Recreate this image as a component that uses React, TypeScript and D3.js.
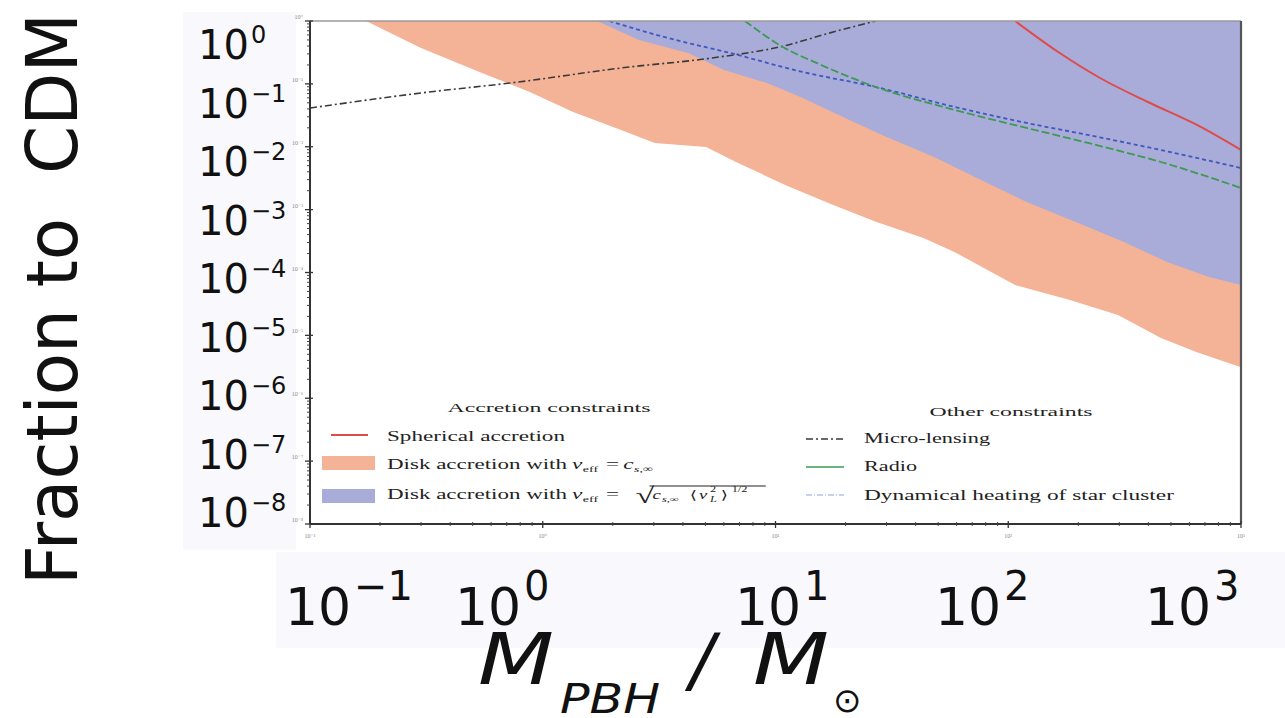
import React from 'react';
import * as d3 from 'd3';

// ---------- data ----------
const massDomain = [0.1, 1000];
const fractionDomain = [1e-8, 1];

// Disk accretion with v_eff = c_s,inf (orange band lower edge)
const diskCsMass = [0.174, 0.3, 0.548, 0.88, 1.35, 2.17, 3.03, 5.03, 6.76, 11.0, 17.7, 27.0, 43.5, 59.0, 107, 184, 296, 453, 647, 1000];
const diskCsFrac = [1, 0.372, 0.149, 0.0743, 0.0357, 0.0185, 0.0115, 0.0099, 0.00572, 0.00247, 0.00119, 6.4e-4, 3.5e-4, 2.1e-4, 6.3e-5, 3.65e-5, 2.1e-5, 9.1e-6, 5.4e-6, 3.1e-6];

// Disk accretion with v_eff = sqrt(c_s <v_L^2>^1/2) (blue band lower edge)
const diskVlMass = [1.71, 2.59, 4.21, 6.01, 9.19, 13.1, 19.9, 28.7, 49.0, 79.5, 120, 195, 314, 481, 728, 1000];
const diskVlFrac = [1, 0.499, 0.31, 0.166, 0.103, 0.0596, 0.0287, 0.0154, 0.00662, 0.00275, 0.00132, 6.36e-4, 3.05e-4, 1.47e-4, 8.5e-5, 6.3e-5];

// Spherical accretion (red)
const sphericalMass = [107, 164, 248, 398, 647, 1000];
const sphericalFrac = [1, 0.321, 0.124, 0.0515, 0.0222, 0.00887];

// Micro-lensing (black dash-dot)
const lensingMass = [0.1, 0.3, 0.783, 2.17, 5.33, 10.4, 17.7, 27.0];
const lensingFrac = [0.0413, 0.0716, 0.107, 0.179, 0.258, 0.386, 0.668, 1];

// Radio (green)
const radioMass = [7.39, 10.4, 15.7, 27.0, 59.0, 120, 220, 453, 1000];
const radioFrac = [1, 0.415, 0.2, 0.0891, 0.0384, 0.0199, 0.0115, 0.00572, 0.00221];

// Dynamical heating of star cluster (blue dashed)
const heatingMass = [1.93, 3.32, 6.38, 13.1, 27.0, 59.0, 120, 220, 453, 1000];
const heatingFrac = [1, 0.557, 0.31, 0.1545, 0.0891, 0.0429, 0.0239, 0.0154, 0.00887, 0.00459];

const xDecadeExponents = [-1, 0, 1, 2, 3];
const yDecadeExponents = [0, -1, -2, -3, -4, -5, -6, -7, -8];

// overlay (slide) label anchors
const overlayXLabelLeft = [285, 455, 735, 935, 1145];

// ---------- helpers ----------
const SUP: Record<string, string> = { '-': '⁻', '0': '⁰', '1': '¹', '2': '²', '3': '³', '4': '⁴', '5': '⁵', '6': '⁶', '7': '⁷', '8': '⁸', '9': '⁹' };
const supStr = (n: number) => String(n).split('').map((c) => SUP[c]).join('');
const expText = (n: number) => (n < 0 ? '\u2212' + Math.abs(n) : String(n));
const zip = (a: number[], b: number[]) => a.map((v, i) => [v, b[i]] as [number, number]);

const W = 1285;
const H = 718;
const P = { left: 310, right: 1241, top: 21, bottom: 524 };

export default function App() {
  const x = d3.scaleLog().domain(massDomain).range([P.left, P.right]);
  const y = d3.scaleLog().domain(fractionDomain).range([P.bottom, P.top]);

  const line = d3
    .line<[number, number]>()
    .x((d) => x(d[0]))
    .y((d) => y(d[1]));
  const smooth = d3
    .line<[number, number]>()
    .x((d) => x(d[0]))
    .y((d) => y(d[1]))
    .curve(d3.curveMonotoneX);
  const area = d3
    .area<[number, number]>()
    .x((d) => x(d[0]))
    .y0(y(fractionDomain[1]))
    .y1((d) => y(d[1]));

  const xMajor = xDecadeExponents.map((e) => Math.pow(10, e));
  const yMajor = yDecadeExponents.map((e) => Math.pow(10, e));
  const xMinor: number[] = [];
  xMajor.slice(0, -1).forEach((d) => {
    for (let k = 2; k <= 9; k++) xMinor.push(d * k);
  });
  const yMinor: number[] = [];
  yMajor.slice(1).forEach((d) => {
    for (let k = 2; k <= 9; k++) yMinor.push(d * k);
  });

  const serif = '"Liberation Serif", "DejaVu Serif", serif';
  const sans = '"DejaVu Sans", sans-serif';

  // y overlay label layout: evenly spaced from first to last
  const yOverlay = d3.scaleLinear().domain([0, -8]).range([59, 527]);

  return (
    <svg
      width={W}
      height={H}
      style={{ position: 'absolute', left: 0, top: 0, background: '#ffffff' }}
      xmlns="http://www.w3.org/2000/svg"
    >
      <defs>
        <clipPath id="plotClip">
          <rect x={P.left} y={P.top} width={P.right - P.left} height={P.bottom - P.top} />
        </clipPath>
      </defs>
      <rect x={0} y={0} width={W} height={H} fill="#ffffff" />

      {/* slide panels */}
      <rect x={183} y={12} width={113} height={538} fill="#f9f9fd" />
      <rect x={276} y={552} width={1009} height={96} fill="#f9f9fd" />

      {/* plot background */}
      <rect x={P.left} y={P.top} width={P.right - P.left} height={P.bottom - P.top} fill="#ffffff" />

      <g clipPath="url(#plotClip)">
        <path d={area(zip(diskCsMass, diskCsFrac)) || ''} fill="#f4b396" />
        <path d={area(zip(diskVlMass, diskVlFrac)) || ''} fill="#a9acd9" />
        <path
          d={smooth(zip(lensingMass, lensingFrac)) || ''}
          fill="none"
          stroke="#3a3a3a"
          strokeWidth={1.6}
          strokeDasharray="7,3,2,3"
        />
        <path
          d={smooth(zip(heatingMass, heatingFrac)) || ''}
          fill="none"
          stroke="#3f57bf"
          strokeWidth={1.8}
          strokeDasharray="4,3"
        />
        <path
          d={smooth(zip(radioMass, radioFrac)) || ''}
          fill="none"
          stroke="#3c9a52"
          strokeWidth={1.8}
          strokeDasharray="8,3"
        />
        <path
          d={smooth(zip(sphericalMass, sphericalFrac)) || ''}
          fill="none"
          stroke="#e04a4a"
          strokeWidth={2}
        />
      </g>

      {/* frame */}
      <line x1={P.left} x2={P.right} y1={P.top} y2={P.top} stroke="#9a9a9a" strokeWidth={1.5} />
      <line x1={P.right} x2={P.right} y1={P.top} y2={P.bottom} stroke="#555" strokeWidth={2.2} />
      <line x1={P.left} x2={P.left} y1={P.top} y2={P.bottom} stroke="#333" strokeWidth={2} />
      <line x1={P.left} x2={P.right} y1={P.bottom} y2={P.bottom} stroke="#333" strokeWidth={2} />

      {/* inner ticks */}
      {xMajor.map((v) => (
        <line key={'xM' + v} x1={x(v)} x2={x(v)} y1={P.bottom - 3} y2={P.bottom + 4} stroke="#333" strokeWidth={1.3} />
      ))}
      {xMinor.map((v) => (
        <line key={'xm' + v} x1={x(v)} x2={x(v)} y1={P.bottom - 2} y2={P.bottom + 2} stroke="#444" strokeWidth={1} />
      ))}
      {yMajor.map((v) => (
        <line key={'yM' + v} x1={P.left - 5} x2={P.left + 3} y1={y(v)} y2={y(v)} stroke="#333" strokeWidth={1.3} />
      ))}
      {yMinor.map((v) => (
        <line key={'ym' + v} x1={P.left - 3} x2={P.left} y1={y(v)} y2={y(v)} stroke="#444" strokeWidth={1} />
      ))}

      {/* tiny inner tick labels */}
      {xDecadeExponents.map((e) => (
        <text key={'xl' + e} x={x(Math.pow(10, e))} y={P.bottom + 14} fontSize={6} fill="#888" textAnchor="middle" fontFamily={serif}>
          {'10' + supStr(e)}
        </text>
      ))}
      {yDecadeExponents.map((e) => (
        <text key={'yl' + e} x={P.left - 7} y={y(Math.pow(10, e)) - 2} fontSize={6} fill="#888" textAnchor="end" fontFamily={serif}>
          {'10' + supStr(e)}
        </text>
      ))}

      {/* legend: accretion constraints */}
      <g fontFamily={serif} fill="#222">
        <text x={549} y={412} fontSize={13} textAnchor="middle" textLength={203} lengthAdjust="spacingAndGlyphs">
          Accretion constraints
        </text>
        <line x1={331} x2={368} y1={435} y2={435} stroke="#e04a4a" strokeWidth={2} />
        <text x={387} y={441} fontSize={15} textLength={178} lengthAdjust="spacingAndGlyphs">
          Spherical accretion
        </text>
        <rect x={322} y={456} width={53} height={14} fill="#f4b396" />
        <text x={387} y={469} fontSize={15} textLength={180} lengthAdjust="spacingAndGlyphs">
          Disk accretion with
        </text>
        <g transform="translate(572,0) scale(1.55,1)">
          <text x={0} y={469} fontSize={15} fontStyle="italic">v</text>
          <text x={7} y={472} fontSize={9}>eff</text>
          <text x={22} y={469} fontSize={15}>=</text>
          <text x={33} y={469} fontSize={15} fontStyle="italic">c</text>
          <text x={40} y={472} fontSize={9} fontStyle="italic">s,∞</text>
        </g>

        <rect x={322} y={489} width={53} height={14} fill="#a9acd9" />
        <text x={387} y={499} fontSize={15} textLength={180} lengthAdjust="spacingAndGlyphs">
          Disk accretion with
        </text>
        <g transform="translate(572,0) scale(1.55,1)">
          <text x={0} y={499} fontSize={15} fontStyle="italic">v</text>
          <text x={7} y={502} fontSize={9}>eff</text>
          <text x={22} y={499} fontSize={15}>=</text>
          <text x={41} y={503} fontSize={22}>√</text>
          <line x1={50} x2={125} y1={486} y2={486} stroke="#222" strokeWidth={1} />
          <text x={52} y={499} fontSize={12} fontStyle="italic">c</text>
          <text x={58} y={502} fontSize={8} fontStyle="italic">s,∞</text>
          <text x={76} y={499} fontSize={12}>⟨</text>
          <text x={82} y={499} fontSize={12} fontStyle="italic">v</text>
          <text x={89} y={502} fontSize={8} fontStyle="italic">L</text>
          <text x={89} y={492} fontSize={8}>2</text>
          <text x={96} y={499} fontSize={12}>⟩</text>
          <text x={103} y={492} fontSize={8}>1/2</text>
        </g>

        {/* legend: other constraints */}
        <text x={1011} y={416} fontSize={13} textAnchor="middle" textLength={163} lengthAdjust="spacingAndGlyphs">
          Other constraints
        </text>
        <line x1={806} x2={844} y1={439} y2={439} stroke="#3a3a3a" strokeWidth={1.6} strokeDasharray="7,3,2,3" />
        <text x={864} y={443} fontSize={15} textLength={126} lengthAdjust="spacingAndGlyphs">
          Micro-lensing
        </text>
        <line x1={806} x2={844} y1={467} y2={467} stroke="#3c9a52" strokeWidth={1.6} />
        <text x={864} y={471} fontSize={15} textLength={53} lengthAdjust="spacingAndGlyphs">
          Radio
        </text>
        <line x1={806} x2={844} y1={495} y2={495} stroke="#8ea2e2" strokeWidth={1.2} strokeDasharray="6,2,1,2" />
        <text x={864} y={500} fontSize={15} textLength={310} lengthAdjust="spacingAndGlyphs">
          Dynamical heating of star cluster
        </text>
      </g>

      {/* overlay y labels */}
      <g fontFamily={sans} fill="#111">
        {yDecadeExponents.map((e) => (
          <g key={'oy' + e}>
            <text x={198} y={yOverlay(e)} fontSize={40}>10</text>
            <text x={251} y={yOverlay(e) - 16} fontSize={24}>{expText(e)}</text>
          </g>
        ))}
      </g>

      {/* overlay x labels */}
      <g fontFamily={sans} fill="#111">
        {xDecadeExponents.map((e, i) => (
          <g key={'ox' + e}>
            <text x={overlayXLabelLeft[i]} y={625} fontSize={52}>10</text>
            <text x={overlayXLabelLeft[i] + 69} y={600} fontSize={40}>{expText(e)}</text>
          </g>
        ))}
      </g>

      {/* y axis title */}
      <text
        transform="translate(77,585) rotate(-90)"
        fontFamily={sans}
        fontSize={72}
        fill="#111"
        textLength={572}
        lengthAdjust="spacingAndGlyphs"
      >
        {'Fraction to\u00A0\u00A0CDM'}
      </text>

      {/* x axis title */}
      <g fontFamily={sans} fill="#111" fontStyle="italic">
        <text x={478} y={684} fontSize={72} textLength={76} lengthAdjust="spacingAndGlyphs">M</text>
        <text x={560} y={713} fontSize={40} textLength={100} lengthAdjust="spacingAndGlyphs">PBH</text>
        <text x={690} y={684} fontSize={72}>/</text>
        <text x={753} y={684} fontSize={72} textLength={76} lengthAdjust="spacingAndGlyphs">M</text>
        <text x={833} y={712} fontSize={34} fontStyle="normal">⊙</text>
      </g>
    </svg>
  );
}
